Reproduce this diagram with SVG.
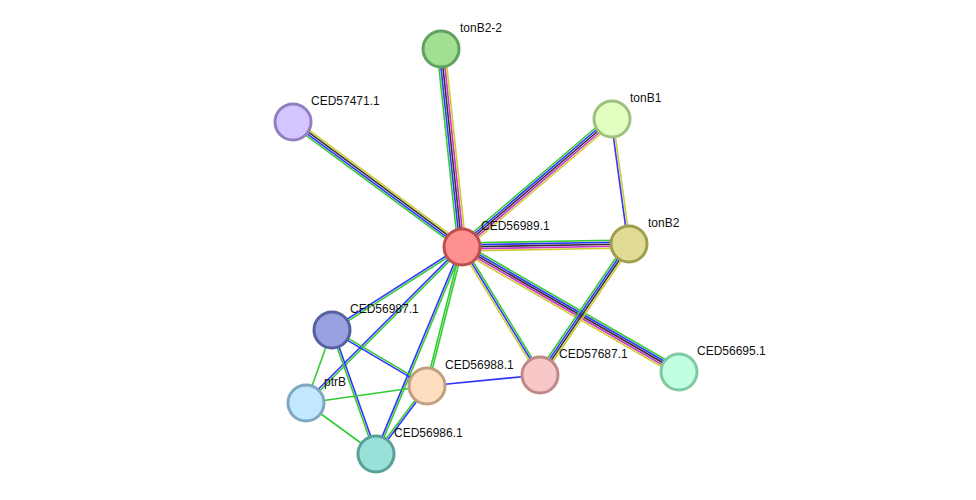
<svg xmlns="http://www.w3.org/2000/svg" width="976" height="500" viewBox="0 0 976 500">
<style>
line{stroke-width:1.6;fill:none}
.g{stroke:#33cc33}.b{stroke:#3333ff}.k{stroke:#333333}.m{stroke:#cc33cc}.y{stroke:#cccc33}
circle{stroke-width:3}
text{font-family:"Liberation Sans",Arial,sans-serif;font-size:12px;fill:#111}
</style>
<rect width="976" height="500" fill="#fff"/>
<g id="edges">
<g><line class="g" x1="462" y1="247" x2="441" y2="49" transform="translate(-4,0.4)"/><line class="b" x1="462" y1="247" x2="441" y2="49" transform="translate(-2,0.2)"/><line class="k" x1="462" y1="247" x2="441" y2="49"/><line class="m" x1="462" y1="247" x2="441" y2="49" transform="translate(2,-0.2)"/><line class="y" x1="462" y1="247" x2="441" y2="49" transform="translate(4,-0.4)"/></g>
<g><line class="g" x1="462" y1="247" x2="293" y2="122" transform="translate(-1.8,2.4)"/><line class="b" x1="462" y1="247" x2="293" y2="122" transform="translate(-0.6,0.8)"/><line class="k" x1="462" y1="247" x2="293" y2="122" transform="translate(0.6,-0.8)"/><line class="y" x1="462" y1="247" x2="293" y2="122" transform="translate(1.8,-2.4)"/></g>
<g><line class="g" x1="462" y1="247" x2="612" y2="119" transform="translate(-2.6,-3)"/><line class="b" x1="462" y1="247" x2="612" y2="119" transform="translate(-1.3,-1.5)"/><line class="k" x1="462" y1="247" x2="612" y2="119"/><line class="m" x1="462" y1="247" x2="612" y2="119" transform="translate(1.3,1.5)"/><line class="y" x1="462" y1="247" x2="612" y2="119" transform="translate(2.6,3)"/></g>
<g><line class="g" x1="462" y1="247" x2="629" y2="244" transform="translate(0,-4)"/><line class="b" x1="462" y1="247" x2="629" y2="244" transform="translate(0,-2)"/><line class="k" x1="462" y1="247" x2="629" y2="244"/><line class="m" x1="462" y1="247" x2="629" y2="244" transform="translate(0,2)"/><line class="y" x1="462" y1="247" x2="629" y2="244" transform="translate(0,4)"/></g>
<g><line class="g" x1="462" y1="247" x2="679" y2="372" transform="translate(2,-3.5)"/><line class="b" x1="462" y1="247" x2="679" y2="372" transform="translate(1,-1.7)"/><line class="k" x1="462" y1="247" x2="679" y2="372"/><line class="m" x1="462" y1="247" x2="679" y2="372" transform="translate(-1,1.7)"/><line class="y" x1="462" y1="247" x2="679" y2="372" transform="translate(-2,3.5)"/></g>
<g><line class="g" x1="462" y1="247" x2="540" y2="375" transform="translate(1.7,-1)"/><line class="b" x1="462" y1="247" x2="540" y2="375"/><line class="y" x1="462" y1="247" x2="540" y2="375" transform="translate(-1.7,1)"/></g>
<g><line class="g" x1="462" y1="247" x2="427" y2="386" transform="translate(0.97,0.24)"/><line class="g" x1="462" y1="247" x2="427" y2="386" transform="translate(-0.97,-0.24)"/></g>
<g><line class="g" x1="462" y1="247" x2="376" y2="454" transform="translate(0.92,0.38)"/><line class="b" x1="462" y1="247" x2="376" y2="454" transform="translate(-0.92,-0.38)"/></g>
<g><line class="g" x1="462" y1="247" x2="332" y2="330" transform="translate(0.54,0.84)"/><line class="b" x1="462" y1="247" x2="332" y2="330" transform="translate(-0.54,-0.84)"/></g>
<g><line class="g" x1="462" y1="247" x2="306" y2="403" transform="translate(0.7,0.7)"/><line class="b" x1="462" y1="247" x2="306" y2="403" transform="translate(-0.7,-0.7)"/></g>
<g><line class="b" x1="612" y1="119" x2="629" y2="244" transform="translate(-1,0.14)"/><line class="y" x1="612" y1="119" x2="629" y2="244" transform="translate(1,-0.14)"/></g>
<g><line class="g" x1="629" y1="244" x2="540" y2="375" transform="translate(-2.5,-1.7)"/><line class="b" x1="629" y1="244" x2="540" y2="375" transform="translate(-0.8,-0.6)"/><line class="k" x1="629" y1="244" x2="540" y2="375" transform="translate(0.8,0.6)"/><line class="y" x1="629" y1="244" x2="540" y2="375" transform="translate(2.5,1.7)"/></g>
<g><line class="g" x1="332" y1="330" x2="427" y2="386" transform="translate(0.5,-0.86)"/><line class="b" x1="332" y1="330" x2="427" y2="386" transform="translate(-0.5,0.86)"/></g>
<g><line class="g" x1="332" y1="330" x2="376" y2="454" transform="translate(-0.94,0.33)"/><line class="b" x1="332" y1="330" x2="376" y2="454" transform="translate(0.94,-0.33)"/></g>
<line class="g" x1="332" y1="330" x2="306" y2="403"/>
<line class="g" x1="306" y1="403" x2="427" y2="386"/>
<line class="g" x1="306" y1="403" x2="376" y2="454"/>
<g><line class="g" x1="427" y1="386" x2="376" y2="454" transform="translate(-0.8,-0.6)"/><line class="b" x1="427" y1="386" x2="376" y2="454" transform="translate(0.8,0.6)"/></g>
<line class="b" x1="427" y1="386" x2="540" y2="375"/>
</g>
<g id="n-CED56989.1"><circle cx="462" cy="247" r="18" fill="#ff9090" stroke="#c05050"/><text x="481" y="230">CED56989.1</text></g>
<g id="n-tonB2-2"><circle cx="441" cy="49" r="18" fill="#a0e090" stroke="#60a060"/><text x="460" y="32">tonB2-2</text></g>
<g id="n-CED57471.1"><circle cx="293" cy="122" r="18" fill="#d4c4ff" stroke="#9080c0"/><text x="311" y="105">CED57471.1</text></g>
<g id="n-tonB1"><circle cx="612" cy="119" r="18" fill="#e0ffc0" stroke="#a0c080"/><text x="630" y="102">tonB1</text></g>
<g id="n-tonB2"><circle cx="629" cy="244" r="18" fill="#e0dc96" stroke="#a09c50"/><text x="648" y="227">tonB2</text></g>
<g id="n-CED56987.1"><circle cx="332" cy="330" r="18" fill="#98a2e0" stroke="#5860a0"/><text x="350" y="313">CED56987.1</text></g>
<g id="n-ptrB"><circle cx="306" cy="403" r="18" fill="#c2e8ff" stroke="#80a8c0"/><text x="324" y="386">ptrB</text></g>
<g id="n-CED56988.1"><circle cx="427" cy="386" r="18" fill="#ffdec0" stroke="#c0a080"/><text x="445" y="369">CED56988.1</text></g>
<g id="n-CED57687.1"><circle cx="540" cy="375" r="18" fill="#f8c8c8" stroke="#c08888"/><text x="559" y="358">CED57687.1</text></g>
<g id="n-CED56695.1"><circle cx="679" cy="372" r="18" fill="#c0ffe0" stroke="#80c8a0"/><text x="697" y="355">CED56695.1</text></g>
<g id="n-CED56986.1"><circle cx="376" cy="454" r="18" fill="#98e0d8" stroke="#58a098"/><text x="394" y="437">CED56986.1</text></g>
</svg>
